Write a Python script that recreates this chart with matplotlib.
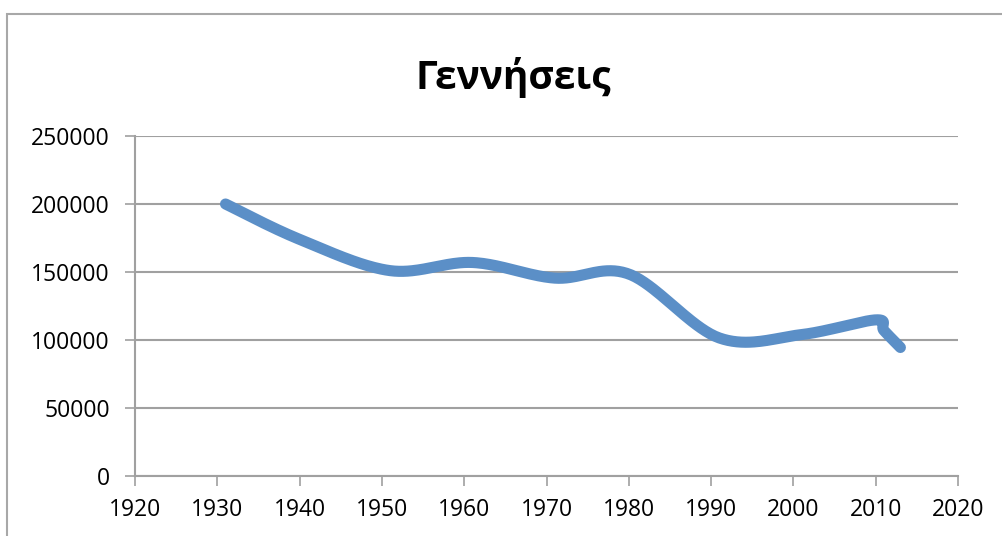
import numpy as np
import matplotlib.pyplot as plt
from matplotlib.patches import Rectangle

# births per year
years = [1931, 1940, 1951, 1961, 1971, 1980, 1991, 2001, 2010, 2011, 2013]
births = [200000, 174000, 151000, 157000, 145500, 148500, 101500, 104000, 114800, 107000, 94500]
title = 'Γεννήσεις'
x_ticks = list(range(1920, 2021, 10))
y_ticks = list(range(0, 250001, 50000))

line_col = '#5B8FC7'
grid_col = '#A0A0A0'

plt.rcParams['font.family'] = ['Open Sans', 'DejaVu Sans']


def smooth(ax, xs, ys, n=40):
    """Excel-like smoothed line: Catmull-Rom bezier computed in pixel space."""
    pts = ax.transData.transform(np.column_stack([xs, ys]))
    p = np.vstack([pts[0], pts, pts[-1]])
    out = []
    t = np.linspace(0, 1, n)[:, None]
    for i in range(1, len(p) - 2):
        p0, p1, p2, p3 = p[i - 1], p[i], p[i + 1], p[i + 2]
        c1 = p1 + (p2 - p0) / 6
        c2 = p2 - (p3 - p1) / 6
        seg = ((1 - t) ** 3) * p1 + 3 * ((1 - t) ** 2) * t * c1 + 3 * (1 - t) * t ** 2 * c2 + t ** 3 * p2
        out.append(seg)
    out = np.vstack(out)
    return ax.transData.inverted().transform(out)


fig = plt.figure(figsize=(10.03, 5.36), dpi=100)
ax = fig.add_axes([135 / 1003, 60 / 536, 823 / 1003, 340 / 536])

# outer chart frame
fig.patches.append(Rectangle((7 / 1003, -0.1), 1.2, (536 - 14) / 536 + 0.1,
                             transform=fig.transFigure, fill=False,
                             edgecolor='#A8A8A8', linewidth=1.5))

ax.set_xlim(1920, 2020)
ax.set_ylim(0, 250000)
ax.set_xticks(x_ticks)
ax.set_yticks(y_ticks)
ax.tick_params(axis='both', labelsize=16.5, color=grid_col, length=7, width=1.2)
ax.tick_params(axis='y', pad=11)
ax.tick_params(axis='x', pad=9)

for s in ['top', 'right']:
    ax.spines[s].set_visible(False)
for s in ['left', 'bottom']:
    ax.spines[s].set_color(grid_col)
    ax.spines[s].set_linewidth(1.5)

ax.grid(axis='y', color=grid_col, linewidth=1.5)
ax.set_axisbelow(True)

curve = smooth(ax, years, births)
ax.plot(curve[:, 0], curve[:, 1], color=line_col, linewidth=8,
        solid_capstyle='round', solid_joinstyle='round', clip_on=False)

fig.text(513 / 1003, 1 - 77 / 536, title, ha='center', va='center',
         fontsize=28, fontweight='bold')

fig.savefig('out.png', dpi=100)
